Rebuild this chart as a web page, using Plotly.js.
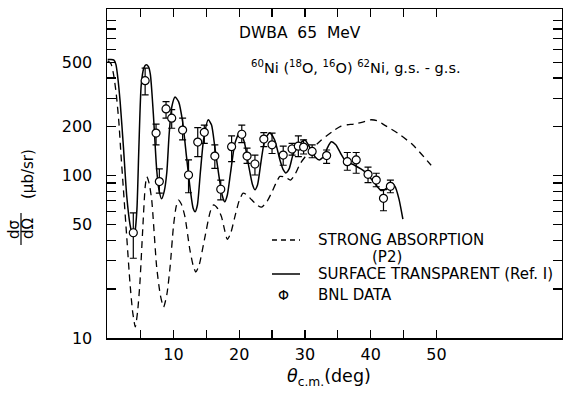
<!DOCTYPE html>
<html>
<head>
<meta charset="utf-8">
<script src="https://cdn.plot.ly/plotly-3.0.1.min.js"></script>
<style>html,body{margin:0;padding:0;background:#fff;}#chart{width:563px;height:394px;}</style>
</head>
<body>
<div id="chart"></div>
<script>
// Surface transparent (Ref. I) - solid curve
const solidX = [0, 0.5, 0.95, 1.25, 1.55, 1.9, 2.4, 2.9, 3.4, 3.7, 3.9, 4.15, 4.45, 4.75, 5.1, 5.5, 5.85, 6.2, 6.5, 6.95, 7.45, 7.8, 8.2, 8.6, 9.0, 9.35, 9.75, 10.25, 10.8, 11.4, 12.0, 12.6, 13.0, 13.3, 13.65, 14.1, 14.6, 15.3, 15.8, 16.3, 17.0, 17.45, 17.8, 18.2, 18.7, 19.35, 20.1, 20.8, 21.5, 22.0, 22.4, 22.8, 23.3, 23.9, 24.65, 25.4, 26.2, 26.7, 27.1, 27.6, 28.2, 29.0, 30.0, 30.9, 31.6, 32.2, 32.9, 33.4, 34.0, 34.7, 35.4, 36.2, 37.55, 39.1, 40.6, 41.6, 42.3, 43.0, 43.7, 44.3, 44.9];
const solidY = [520, 520, 515, 485, 400, 285, 150, 75, 50, 44, 42, 45, 62, 150, 360, 460, 482, 470, 420, 240, 110, 82, 72, 80, 105, 180, 265, 305, 285, 215, 130, 80, 63, 60, 66, 105, 168, 221, 205, 150, 95, 75, 69, 76, 105, 158, 187, 160, 112, 89, 82, 88, 120, 166, 184, 166, 125, 109, 104, 110, 135, 154, 166, 145, 130, 125, 132, 148, 162, 155, 138, 123, 116, 106, 90, 81, 83, 91, 86, 72, 54];

// Strong absorption (P2) - dashed curve
const dashX = [0, 0.5, 0.9, 1.3, 1.7, 2.0, 2.4, 2.9, 3.4, 3.8, 4.2, 4.55, 4.9, 5.3, 5.7, 5.95, 6.3, 6.7, 7.45, 8.0, 8.5, 9.0, 9.5, 10.0, 10.4, 10.75, 11.2, 11.75, 12.5, 13.0, 13.4, 13.9, 14.8, 15.6, 16.1, 16.7, 17.3, 17.8, 18.2, 18.7, 19.35, 20.0, 20.6, 21.2, 21.9, 22.7, 23.4, 24.2, 24.9, 25.6, 26.2, 27.0, 27.8, 28.5, 29.3, 30.7, 32.5, 34.5, 35.5, 36.5, 37.5, 38.8, 40.0, 41.0, 42.1, 44.1, 46.4, 49.2];
const dashY = [510, 490, 420, 320, 215, 140, 82, 42, 21.7, 14.5, 11.7, 14.5, 21.7, 44, 85, 98.6, 90, 71, 27.5, 18.5, 15.5, 18.5, 27.5, 48.5, 64, 70.8, 67, 56, 35, 28, 25.5, 28, 42, 60, 66, 63, 56, 46, 40.5, 44, 56, 70, 78, 76, 71, 66, 64, 69, 78, 90, 99, 98, 94, 102, 119, 141, 166, 191, 202, 206, 208, 214, 221, 218, 205, 183, 155, 116];

// BNL data
const dataX = [3.9, 5.7, 7.36, 7.86, 8.88, 9.74, 11.4, 12.3, 13.7, 14.7, 16.3, 17.2, 18.85, 20.4, 21.2, 22.4, 23.75, 25.0, 26.7, 28.05, 29.0, 29.8, 31.1, 33.3, 36.45, 37.8, 39.6, 40.85, 41.95, 43.0];
const dataY = [44.5, 385, 183, 92, 258, 226, 191, 101, 161, 185, 132, 82.5, 151, 180, 132, 118, 168, 155, 134, 146, 152, 150, 141, 133, 122, 125, 102, 94, 72.5, 86];
const errHigh = [59, 460, 208, 110, 286, 255, 226, 125, 198, 205, 155, 94, 176, 205, 148, 134, 184, 183, 152, 158, 176, 166, 155, 144, 139, 139, 113, 103.5, 82, 94];
const errLow = [31, 315, 155, 78, 226, 196, 166, 78.5, 131, 158, 111, 71, 122, 160, 119, 101, 151, 137, 116, 134, 131, 136, 129, 119, 108, 103.5, 90.6, 85.5, 60.8, 78.5];

const xTickVals = [5, 10, 15, 20, 25, 30, 35, 40, 45, 50];
const xTickText = ['', '10', '', '20', '', '30', '', '40', '', '50'];
const yTickVals = [10, 50, 100, 200, 500];
const yTickText = ['10', '50', '100', '200', '500'];
const yMinorVals = [20, 30, 40, 60, 70, 80, 90, 300, 400, 600, 700, 800, 900];

const FONT = 'DejaVu Sans, Liberation Sans, sans-serif';
const L = 107, R = 562, T = 9, B = 338;
const px = v => (v - L) / (R - L);
const py = v => (B - v) / (B - T);

const traces = [
  {x: dashX, y: dashY, mode: 'lines', line: {color: '#000', width: 1.3, dash: '7px,5px', shape: 'spline', smoothing: 0.6}, hoverinfo: 'skip'},
  {x: solidX, y: solidY, mode: 'lines', line: {color: '#000', width: 1.5, shape: 'spline', smoothing: 0.6}, hoverinfo: 'skip'},
  {x: dataX, y: dataY, mode: 'markers',
   error_y: {type: 'data', symmetric: false,
     array: errHigh.map((h, i) => h - dataY[i]),
     arrayminus: errLow.map((l, i) => dataY[i] - l),
     color: '#000', thickness: 1.2, width: 3.5},
   marker: {symbol: 'circle', size: 8, color: '#fff', line: {color: '#000', width: 1.2}}}
];

const ann = (text, x, y, opts) => Object.assign({text, x: px(x), y: py(y), xref: 'paper', yref: 'paper', showarrow: false, xanchor: 'center', yanchor: 'middle', font: {family: FONT, size: 15, color: '#000'}}, opts || {});

const layout = {
  width: 563, height: 394,
  margin: {l: L, r: 563 - R, t: T, b: 394 - B, pad: 0},
  paper_bgcolor: '#fff', plot_bgcolor: '#fff',
  showlegend: false,
  font: {family: FONT, size: 15, color: '#000'},
  xaxis: {range: [-0.1, 69.1], showgrid: false, zeroline: false, showline: true, linecolor: '#000', linewidth: 1.5, mirror: 'ticks',
    ticks: 'inside', ticklen: 8, tickwidth: 1.3, tickcolor: '#000', tickmode: 'array', tickvals: xTickVals, ticktext: xTickText,
    tickfont: {family: FONT, size: 16}, ticklabelstandoff: 1},
  yaxis: {type: 'log', range: [1, 3.027], showgrid: false, zeroline: false, showline: true, linecolor: '#000', linewidth: 1.5, mirror: 'ticks',
    ticks: 'inside', ticklen: 9, tickwidth: 1.3, tickcolor: '#000', tickmode: 'array', tickvals: yTickVals, ticktext: yTickText,
    tickfont: {family: FONT, size: 16}, ticklabelstandoff: 10,
    minor: {tickmode: 'array', tickvals: yMinorVals, ticks: 'inside', ticklen: 9, tickwidth: 1.3, tickcolor: '#000', showgrid: false}},
  annotations: [
    ann('DWBA  65  MeV', 300, 33, {font: {family: FONT, size: 15.5, color: '#000'}}),
    ann('<sup>60</sup>Ni (<sup>18</sup>O, <sup>16</sup>O) <sup>62</sup>Ni, g.s. - g.s.', 356, 67, {font: {family: FONT, size: 14.5, color: '#000'}}),
    ann('STRONG ABSORPTION', 316, 240, {xanchor: 'left'}),
    ann('(P2)', 387, 257),
    ann('SURFACE TRANSPARENT (Ref. I)', 316, 274, {xanchor: 'left'}),
    ann('BNL DATA', 316, 295, {xanchor: 'left'}),
    ann('<i>θ</i><sub>c.m.</sub>(deg)', 329, 377, {font: {family: FONT, size: 17.5, color: '#000'}}),
    ann('dσ', 14, 229, {textangle: -90, font: {family: FONT, size: 15, color: '#000'}}),
    ann('dΩ', 28, 229, {textangle: -90, font: {family: FONT, size: 15, color: '#000'}}),
    ann('(μb/sr)', 28, 174, {textangle: -90, font: {family: FONT, size: 15, color: '#000'}}),
    ann('Φ', 283, 295, {font: {family: FONT, size: 14, color: '#000'}})
  ],
  shapes: [
    {type: 'line', xref: 'paper', yref: 'paper', x0: px(272), x1: px(300), y0: py(240), y1: py(240), line: {color: '#000', width: 1.3, dash: '5px,4px'}},
    {type: 'line', xref: 'paper', yref: 'paper', x0: px(272), x1: px(300), y0: py(274), y1: py(274), line: {color: '#000', width: 1.5}},
    {type: 'line', xref: 'paper', yref: 'paper', x0: px(21), x1: px(21), y0: py(213), y1: py(245), line: {color: '#000', width: 1.2}}
  ]
};

Plotly.newPlot('chart', traces, layout, {staticPlot: true, displayModeBar: false});
</script>
</body>
</html>
